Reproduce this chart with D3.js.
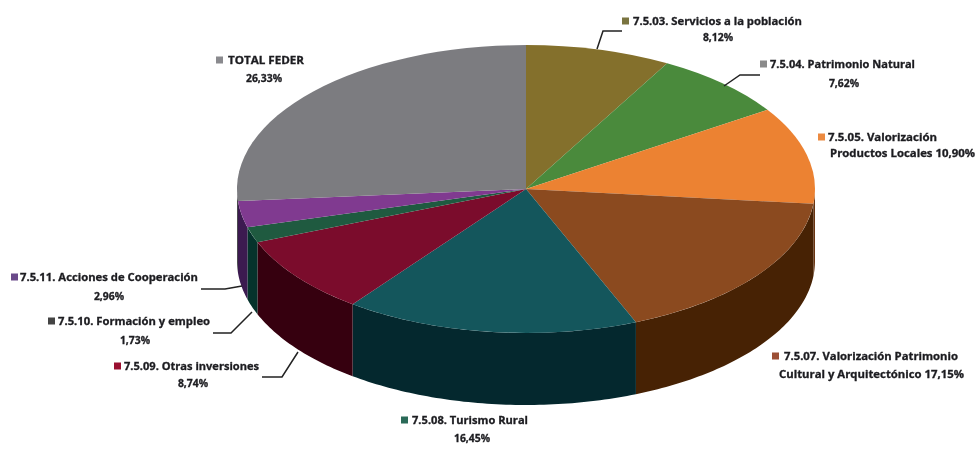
<!DOCTYPE html>
<html><head><meta charset="utf-8">
<script src="https://cdn.jsdelivr.net/npm/d3@7/dist/d3.min.js"></script>
<style>html,body{margin:0;padding:0;background:#fff}svg{display:block;filter:blur(0.7px)}
text{font-family:"Open Sans",sans-serif;font-weight:700;font-size:10.4px;fill:#1c1c20;stroke:#1c1c20;stroke-width:0.3px}</style>
</head><body><svg id="c" width="977" height="449"></svg>
<script>
const categories=["7.5.03. Servicios a la población","7.5.04. Patrimonio Natural","7.5.05. Valorización Productos Locales","7.5.07. Valorización Patrimonio Cultural y Arquitectónico","7.5.08. Turismo Rural","7.5.09. Otras inversiones","7.5.10. Formación y empleo","7.5.11. Acciones de Cooperación","TOTAL FEDER"];
const values=[8.12,7.62,10.90,17.15,16.45,8.74,1.73,2.96,26.33];
const topColors=["#84702c","#4a8a3c","#ec8232","#8b4a1f","#14565c","#7b0c2c","#1f5a40","#803a90","#7c7c80"];
const wallColors=["#4a3c10","#2a5020","#6a3410","#472204","#04282e","#36000f","#06332c","#3c1a50","#4a4a4e"];
const swatchColors=["#7a7440","#8a8a8a","#ec8a40","#9c4f35","#2a6a58","#9a1030","#444","#6a4a8a","#8a8a8e"];
const labelLines=[
 ["7.5.03. Servicios a la población","8,12%"],
 ["7.5.04. Patrimonio Natural","7,62%"],
 ["7.5.05. Valorización","Productos Locales 10,90%"],
 ["7.5.07. Valorización Patrimonio","Cultural y Arquitectónico 17,15%"],
 ["7.5.08. Turismo Rural","16,45%"],
 ["7.5.09. Otras inversiones","8,74%"],
 ["7.5.10. Formación y empleo","1,73%"],
 ["7.5.11. Acciones de Cooperación","2,96%"],
 ["TOTAL FEDER","26,33%"]];
// label layout: swatch x, first-line x/width, first-line y, second-line anchor
const layout=[
 {sx:622,tx:633,tw:169,y:21,x2:718,y2:37,a2:"middle"},
 {sx:760,tx:770,tw:145,y:64,x2:844,y2:83,a2:"middle"},
 {sx:818,tx:828,tw:109,y:137,x2:830,y2:153,a2:"start",tw2:145},
 {sx:772,tx:784,tw:174,y:356,x2:779,y2:374,a2:"start",tw2:185},
 {sx:401,tx:412,tw:116,y:420,x2:472,y2:438,a2:"middle"},
 {sx:114,tx:124,tw:135,y:366,x2:193,y2:383,a2:"middle"},
 {sx:48,tx:58,tw:152,y:321,x2:135,y2:340,a2:"middle"},
 {sx:11,tx:20,tw:178,y:277,x2:109,y2:296,a2:"middle"},
 {sx:216,tx:228,tw:76,y:60,x2:264,y2:78,a2:"middle"}];
const leaders=[
 [[597,49],[603,31],[622,31]],
 [[724,86],[740,75],[760,75]],
 null,null,null,
 [[298,352],[282,377],[262,377]],
 [[252,312],[231,333],[213,333]],
 [[242,286],[225,289],[201,289]],
 null];
const cx=526,cy=189,rx=289,ry=144,depth=72;
const svg=d3.select("#c");
const pie=d3.pie().sort(null).value(d=>d)(values);
const wall=d3.area()
 .x(a=>cx+rx*Math.sin(a))
 .y0(a=>cy-ry*Math.cos(a))
 .y1(a=>cy-ry*Math.cos(a)+depth);
const gw=svg.append("g");
pie.forEach((p,i)=>{
 const a0=Math.max(p.startAngle,Math.PI/2),a1=Math.min(p.endAngle,3*Math.PI/2);
 if(a1<=a0)return;
 const n=Math.ceil((a1-a0)*60);
 gw.append("path").attr("d",wall(d3.range(n+1).map(k=>a0+(a1-a0)*k/n))).attr("fill",wallColors[i]);
});
const arc=d3.arc().innerRadius(0).outerRadius(rx);
svg.append("g").attr("transform",`translate(${cx},${cy}) scale(1,${ry/rx})`)
 .selectAll("path").data(pie).join("path").attr("d",arc).attr("fill",(d,i)=>topColors[i]);
const line=d3.line();
leaders.forEach(l=>{if(l)svg.append("path").attr("d",line(l)).attr("fill","none").attr("stroke","#222").attr("stroke-width",1.5);});
layout.forEach((l,i)=>{
 svg.append("rect").attr("x",l.sx).attr("y",l.y-3.5).attr("width",7).attr("height",7).attr("fill",swatchColors[i]);
 svg.append("text").attr("x",l.tx).attr("y",l.y+3.5).attr("textLength",l.tw).attr("lengthAdjust","spacingAndGlyphs").text(labelLines[i][0]);
 const t=svg.append("text").attr("x",l.x2).attr("y",l.y2+3.5).attr("text-anchor",l.a2).text(labelLines[i][1]);
 if(l.tw2)t.attr("textLength",l.tw2).attr("lengthAdjust","spacingAndGlyphs");
});
</script></body></html>
